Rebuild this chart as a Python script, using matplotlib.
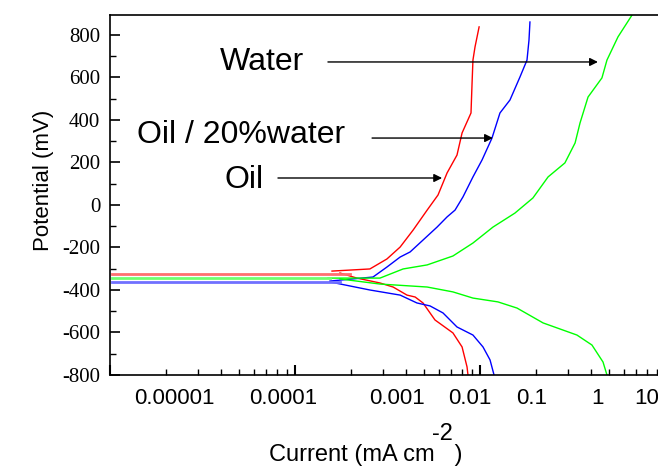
import matplotlib
matplotlib.use("Agg")
import matplotlib.pyplot as plt
from matplotlib.ticker import MultipleLocator, LogLocator, NullFormatter, NullLocator

plt.rcParams['axes.unicode_minus'] = False

# Tafel polarisation curves (current in mA cm^-2, potential in mV)
oil_anodic_i = [1.585e-3, 2.54e-3, 3.14e-3, 3.70e-3, 4.35e-3, 5.18e-3, 5.93e-3, 6.64e-3,
                7.51e-3, 8.0e-3, 8.94e-3, 9.06e-3, 9.16e-3, 9.4e-3, 9.89e-3]
oil_anodic_e = [-311, -301, -254, -198, -118, -24, 47, 151, 235, 339, 433, 574, 682, 744, 838]
oil_cathodic_i = [1.75e-3, 2.16e-3, 2.88e-3, 3.39e-3, 4.03e-3, 4.46e-3, 4.92e-3, 5.71e-3,
                  7.14e-3, 8.0e-3, 8.51e-3, 8.61e-3]
oil_cathodic_e = [-320, -344, -367, -386, -424, -433, -461, -541, -602, -668, -762, -800]

mix_anodic_i = [1.545e-3, 2.64e-3, 3.14e-3, 3.70e-3, 4.19e-3, 4.92e-3, 5.86e-3, 6.64e-3,
                7.33e-3, 8.09e-3, 9.16e-3, 0.01026, 0.01161, 0.01282, 0.01452, 0.01644,
                0.01795, 0.0184, 0.01862]
mix_anodic_e = [-358, -339, -292, -245, -221, -165, -104, -56, -24, 38, 132, 212, 315, 433,
                494, 602, 682, 776, 861]
mix_cathodic_i = [1.545e-3, 1.98e-3, 2.54e-3, 3.70e-3, 4.56e-3, 5.37e-3, 6.31e-3, 7.51e-3,
                  9.16e-3, 0.01038, 0.01133, 0.01191]
mix_cathodic_e = [-362, -381, -400, -424, -461, -475, -508, -574, -612, -668, -729, -800]

water_anodic_i = [1.507e-3, 2.88e-3, 3.84e-3, 5.18e-3, 7.14e-3, 9.16e-3, 0.01175, 0.01545,
                  0.01932, 0.02333, 0.02877, 0.03266, 0.03473, 0.03837, 0.04562, 0.04856,
                  0.0557, 0.06637]
water_anodic_e = [-344, -344, -301, -282, -240, -179, -104, -38, 33, 132, 198, 292, 386, 508,
                  598, 682, 791, 894]
water_cathodic_i = [1.75e-3, 2.88e-3, 5.18e-3, 7.14e-3, 9.16e-3, 0.0125, 0.01585, 0.02193,
                    0.03342, 0.04029, 0.04624, 0.04856]
water_cathodic_e = [-348, -372, -386, -409, -438, -456, -485, -555, -612, -659, -739, -800]

# open-circuit potentials, drawn as flat lines back to the axis
ocp_start = 1.025e-4
ocp_end = [1.98e-3, 1.75e-3, 1.545e-3]
ocp_e = [-325, -362, -344]

tick_text = ['0.00001', '0.0001', '0.001', '0.01', '0.1', '1', '10']
tick_pos = [2.24e-4, 8.6e-4, 3.56e-3, 8.8e-3, 1.9e-2, 4.3e-2, 8.0e-2]
potential_ticks = [-800, -600, -400, -200, 0, 200, 400, 600, 800]

sans = 'Liberation Sans'
serif = 'Liberation Serif'

fig = plt.figure(figsize=(6.58, 4.68), dpi=100)
ax = fig.add_axes([110 / 658, 93 / 468, 548 / 658, 360 / 468])

ax.plot(oil_anodic_i, oil_anodic_e, color='#ff0000', lw=1)
ax.plot(oil_cathodic_i, oil_cathodic_e, color='#ff0000', lw=1)
ax.plot(mix_anodic_i, mix_anodic_e, color='#0000ff', lw=1)
ax.plot(mix_cathodic_i, mix_cathodic_e, color='#0000ff', lw=1)
ax.plot(water_anodic_i, water_anodic_e, color='#00ff00', lw=1)
ax.plot(water_cathodic_i, water_cathodic_e, color='#00ff00', lw=1)

for end, e, c in zip(ocp_end, ocp_e, ['#ff7070', '#7070ff', '#70ff70']):
    ax.plot([ocp_start, end], [e, e], color=c, lw=2)

ax.set_xscale('log')
ax.set_xlim(1e-4, 10 ** (-4 + 548 / 185))
ax.set_ylim(-800, 894)

ax.spines['right'].set_visible(False)
for s in ['left', 'bottom', 'top']:
    ax.spines[s].set_linewidth(1.2)

ax.set_yticks(potential_ticks)
ax.yaxis.set_minor_locator(MultipleLocator(100))
ax.tick_params(axis='y', which='both', direction='in', right=False, labelleft=False)
ax.tick_params(axis='y', which='major', length=7, width=1.2)
ax.tick_params(axis='y', which='minor', length=4, width=1)

ax.xaxis.set_major_locator(LogLocator(base=10, numticks=10))
ax.xaxis.set_minor_locator(LogLocator(base=10, subs=range(2, 10), numticks=20))
ax.xaxis.set_major_formatter(NullFormatter())
ax.xaxis.set_minor_formatter(NullFormatter())
ax.tick_params(axis='x', which='both', direction='in', top=False)
ax.tick_params(axis='x', which='major', length=7, width=1.5)
ax.tick_params(axis='x', which='minor', length=4, width=1)

# potential labels in a serif face
sec_y = ax.secondary_yaxis('left')
sec_y.spines['left'].set_visible(False)
sec_y.set_yticks(potential_ticks, [str(v) for v in potential_ticks])
sec_y.yaxis.set_minor_locator(NullLocator())
sec_y.tick_params(axis='y', length=0, pad=7, labelsize=15, labelfontfamily=serif)

# current labels along the bottom
sec_x = ax.secondary_xaxis('bottom')
sec_x.spines['bottom'].set_visible(False)
sec_x.set_xticks(tick_pos, tick_text)
sec_x.xaxis.set_minor_locator(NullLocator())
sec_x.tick_params(axis='x', length=0, pad=9, labelsize=16, labelfontfamily=sans)

fig.text(43 / 658, 1 - 180 / 468, 'Potential (mV)', fontsize=16, family=sans,
         rotation=90, ha='center', va='center')
fig.text(366 / 658, 1 - 455 / 468, 'Current (mA cm   )', fontsize=17,
         family=sans, ha='center', va='center')
fig.text(442 / 658, 1 - 434 / 468, '-2', fontsize=17,
         family=sans, ha='center', va='center')

# labels with arrows pointing at each curve
arrow = dict(arrowstyle='-|>', color='black', lw=1, mutation_scale=12, shrinkA=0, shrinkB=0)
ax.text(3.93e-4, 673, 'Water', fontsize=23, family=sans, ha='left', va='center')
ax.annotate('', xy=(0.0434, 673), xytext=(1.507e-3, 673), arrowprops=arrow)
ax.text(1.40e-4, 329, 'Oil / 20%water', fontsize=23, family=sans, ha='left', va='center')
ax.annotate('', xy=(0.01175, 315), xytext=(2.61e-3, 315), arrowprops=arrow)
ax.text(4.18e-4, 118, 'Oil', fontsize=23, family=sans, ha='left', va='center')
ax.annotate('', xy=(6.24e-3, 127), xytext=(8.09e-4, 127), arrowprops=arrow)

fig.savefig('out.png', dpi=100)
